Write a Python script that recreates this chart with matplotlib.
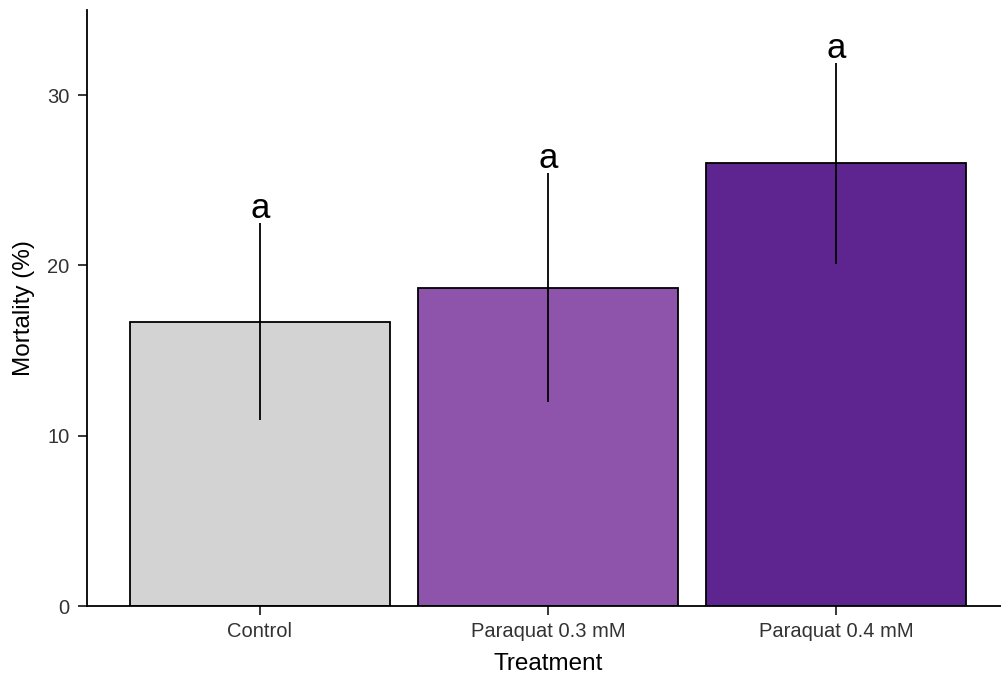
import matplotlib
matplotlib.use("Agg")
import matplotlib.pyplot as plt

treatments = ["Control", "Paraquat 0.3 mM", "Paraquat 0.4 mM"]
mortality = [16.7, 18.7, 26.0]
err = [5.8, 6.7, 5.9]
letters = ["a", "a", "a"]
colors = ["#d3d3d3", "#8e53ab", "#5e2590"]

plt.rcParams["font.family"] = ["Liberation Sans", "DejaVu Sans"]

fig = plt.figure(figsize=(10.01, 6.82), dpi=100)
ax = fig.add_axes([87 / 1001, 76 / 682, (1009 - 87) / 1001, (606 - 10) / 682])

x = list(range(1, len(treatments) + 1))
ax.bar(x, mortality, width=0.9, color=colors, edgecolor="black", linewidth=1.3, zorder=2)
ax.errorbar(x, mortality, yerr=err, fmt="none", ecolor="black", elinewidth=1.3,
            capsize=0, zorder=3)
for xi, m, e, lab in zip(x, mortality, err, letters):
    ax.text(xi, m + e + 0.3, lab, ha="center", va="baseline", fontsize=25, color="black")

ax.set_xlim(0.4, 3.6)
ax.set_ylim(0, 35)
ax.set_yticks([0, 10, 20, 30])
ax.set_xticks(x)
ax.set_xticklabels(treatments)
for s in ["top", "right"]:
    ax.spines[s].set_visible(False)
for s in ["left", "bottom"]:
    ax.spines[s].set_linewidth(1.3)
ax.tick_params(axis="both", length=6.5, width=1.1, labelsize=14.5, labelcolor="#333333",
               color="black")
ax.tick_params(axis="y", pad=6)
ax.tick_params(axis="x", pad=5)
ax.set_xlabel("Treatment", fontsize=17.5, labelpad=9)
ax.set_ylabel("Mortality (%)", fontsize=17.5, labelpad=9)

fig.savefig("out.png", dpi=100)
